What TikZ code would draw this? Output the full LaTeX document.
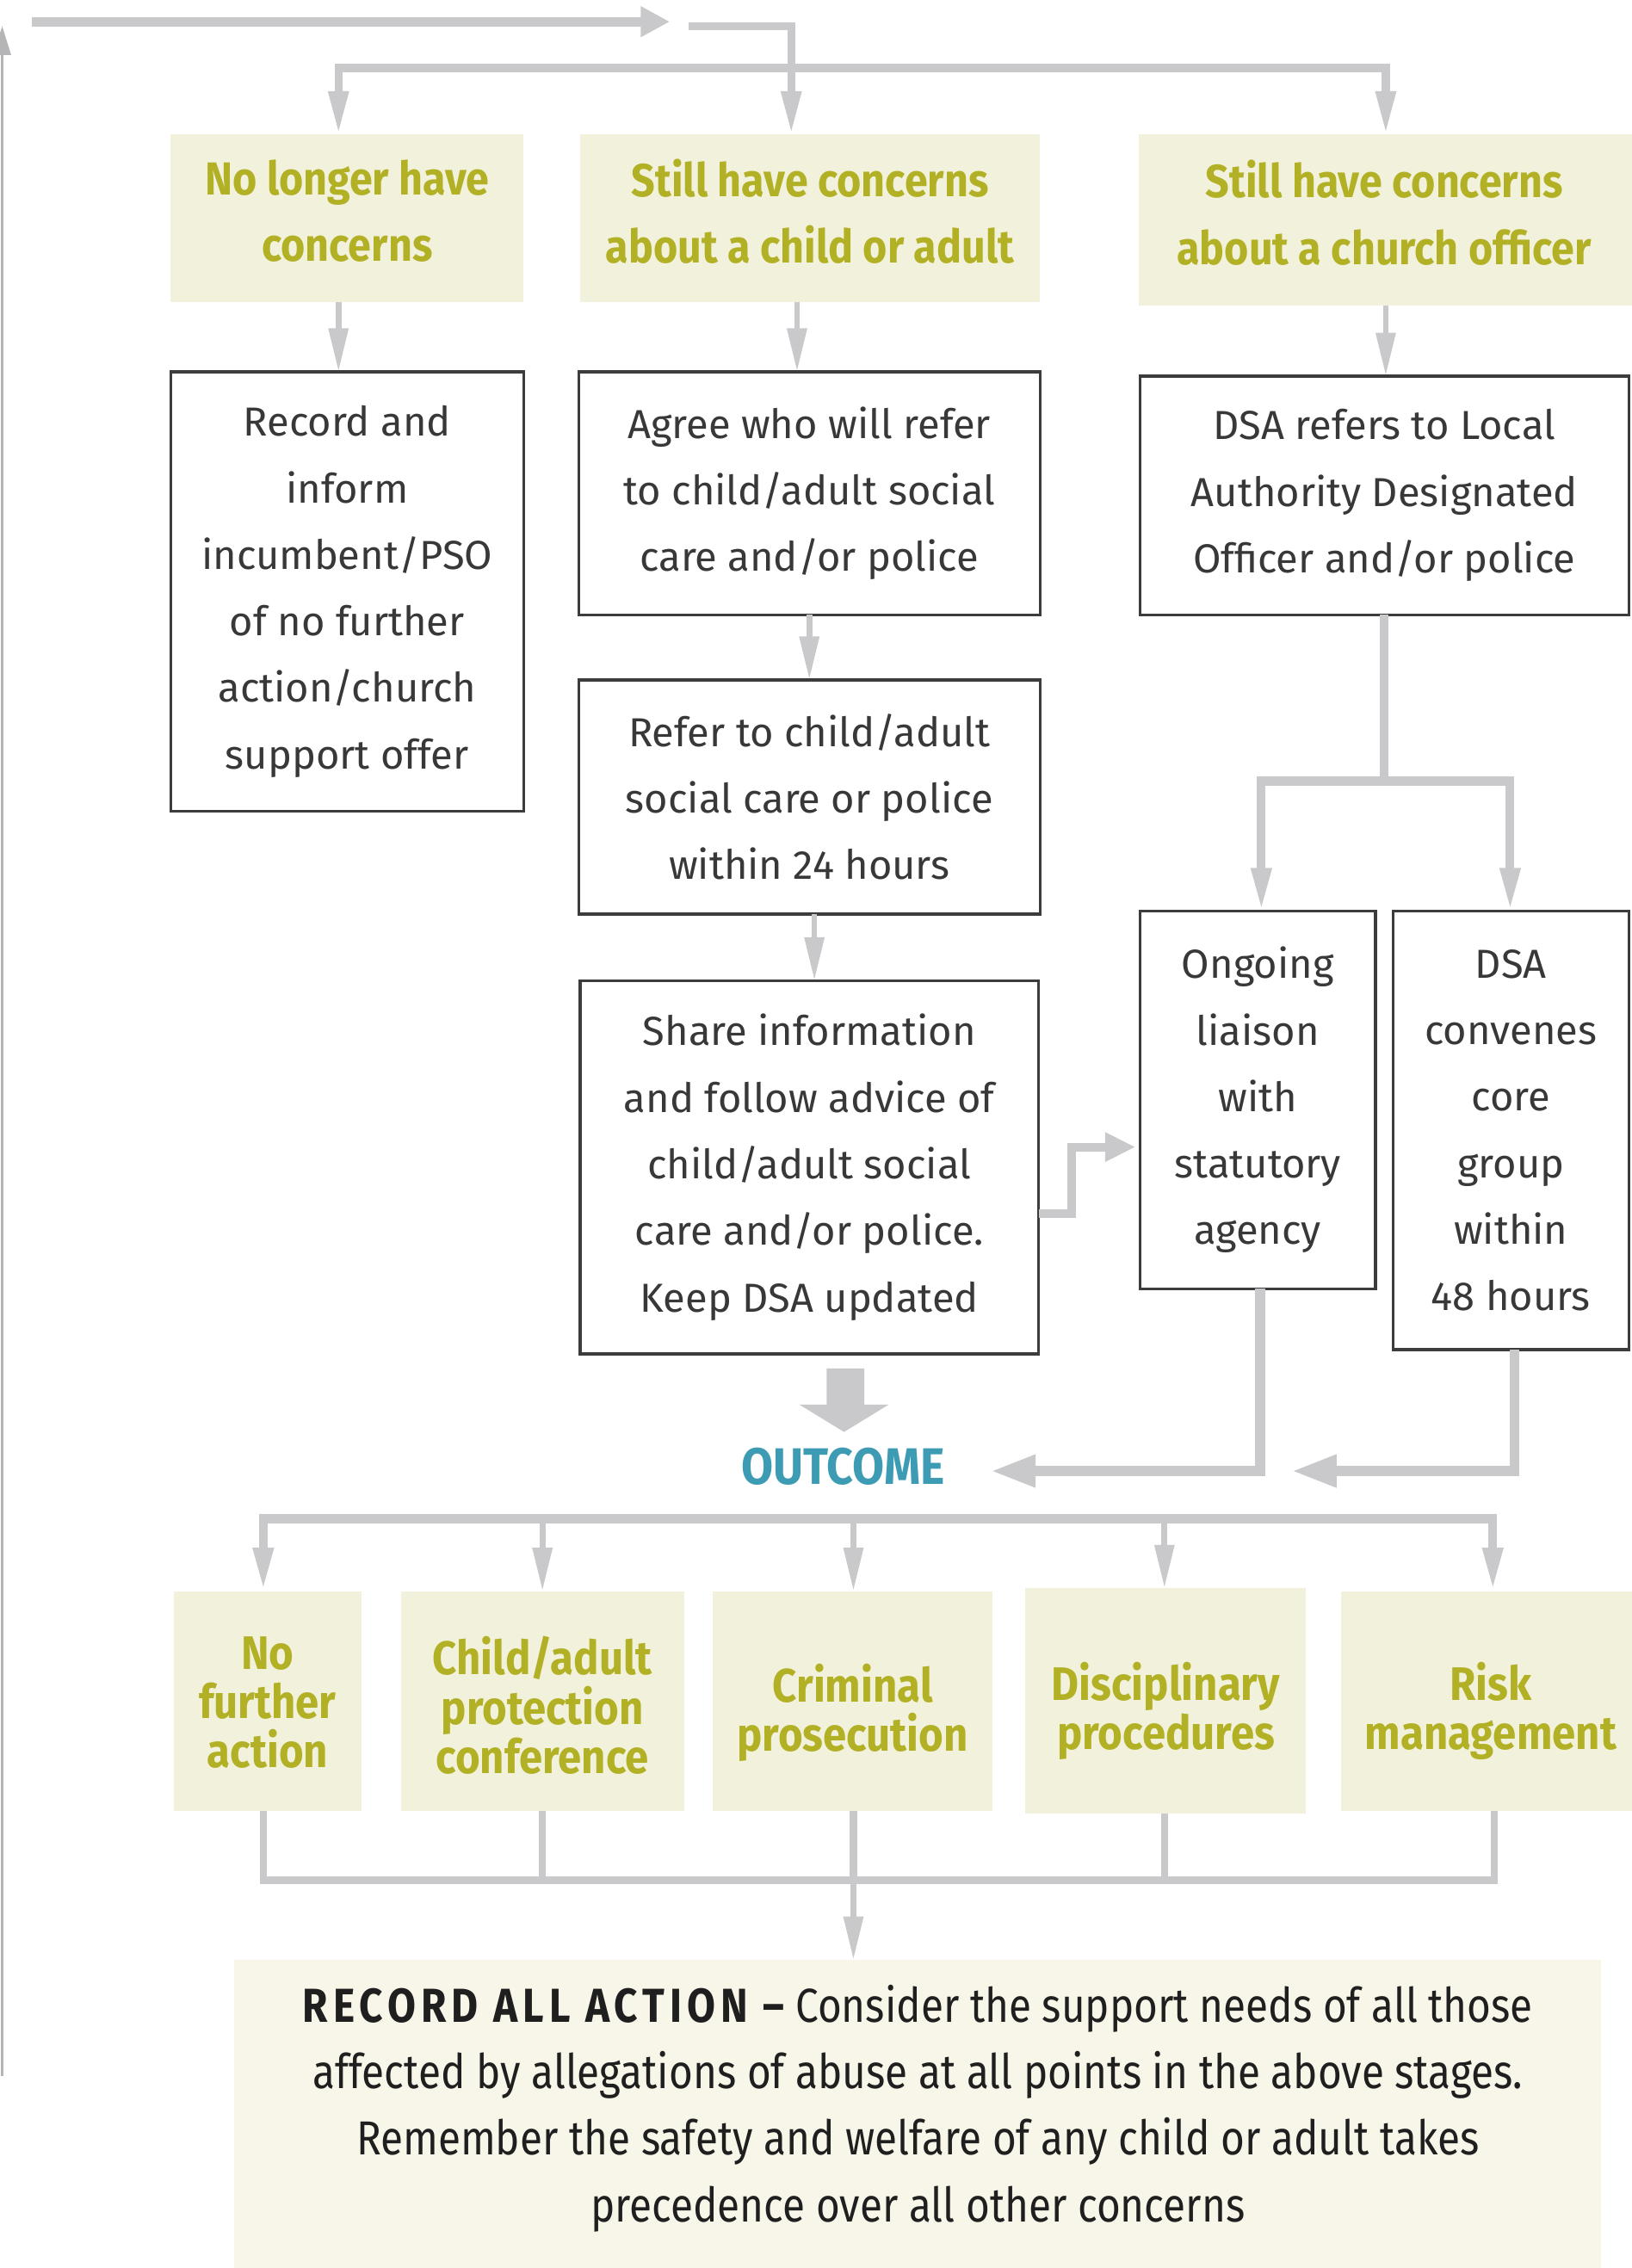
\documentclass[tikz,border=0pt]{standalone}
\usepackage{fontspec}
\setmainfont{Fira Sans}
\newfontfamily\bodyfam{Fira Sans}
\newfontfamily\condfam[FakeStretch=0.86]{Fira Sans}
\newfontfamily\headfam[FakeStretch=0.9]{Fira Sans}
\usetikzlibrary{arrows.meta,calc}
\definecolor{connc}{HTML}{C9C9CC}
\definecolor{beige}{HTML}{F1F1DC}
\definecolor{olive}{HTML}{B2B024}
\definecolor{bottombg}{HTML}{F8F6E8}
\definecolor{tealc}{HTML}{3D9BB4}
\definecolor{boxline}{HTML}{3C3C3C}
\definecolor{txtc}{HTML}{383838}
\begin{document}
\begin{tikzpicture}[x=1pt,y=-1pt,
  whitebox/.style={draw=boxline,line width=2pt,fill=white,inner sep=0pt,outer sep=0pt,align=center,
    text=txtc,font=\bodyfam\fontsize{28}{46}\selectfont},
  headbox/.style={fill=beige,inner sep=0pt,outer sep=0pt},
  headtext/.style={align=center,text=olive,inner sep=0pt,
    font=\headfam\bfseries\fontsize{32}{46}\selectfont},
  outbox/.style={fill=beige,inner sep=0pt,outer sep=0pt},
  outtext/.style={align=center,text=olive,inner sep=0pt,
    font=\headfam\bfseries\fontsize{32.5}{34}\selectfont},
  conn/.style={draw=connc,line width=#1},
  conn/.default=5pt,
  downarr/.style={draw=connc,line width=4pt,-{Triangle[length=30pt,width=13pt]}},
  twoarr/.style={draw=connc,line width=#1,{Triangle[length=30pt,width=13pt]}-{Triangle[length=30pt,width=13pt]}},
  sidearr/.style={draw=connc,line width=7pt,-{Triangle[length=31pt,width=21pt]}},
]
\useasboundingbox (0,0) rectangle (1128,1568);

% left thin line with arrow
\coordinate (lb) at (1.5,1435);
\coordinate (lt) at (1.5,18);
\draw[draw=connc!90!black,line width=1.5pt,-{Triangle[length=20pt,width=12pt]}] (lb) -- (lt);

% top arrow
\coordinate (ta) at (22,15);
\coordinate (tb) at (463,15);
\draw[draw=connc,line width=6.5pt,-{Triangle[length=20pt,width=20pt]}] (ta) -- (tb);

% header boxes
\node[headbox,minimum width=244pt,minimum height=116pt,
  label={[headtext,yshift=5pt]center:No longer have\\concerns}] (H1) at (240,151) {};
\node[headbox,minimum width=318pt,minimum height=116pt,
  label={[headtext,yshift=5pt]center:Still have concerns\\about a child or adult}] (H2) at (560,151) {};
\node[headbox,minimum width=342pt,minimum height=118pt,
  label={[headtext,yshift=5pt,xshift=-1pt]center:Still have concerns\\about a church officer}] (H3) at (958,152) {};

% stub and bar
\coordinate (s0) at (476,18);
\coordinate (s1) at (547,18);
\draw[conn=5.5pt,line join=miter,-{Triangle[length=30pt,width=13pt]}] (s0) -- (s1) -- (s1 |- H2.north);
\coordinate (barL) at (234,47);
\coordinate (barR) at (958,47);
\draw[twoarr=5.5pt,line join=miter] (barL |- H1.north) -- (barL) -- (barR) -- (barR |- H3.north);

% white boxes
\node[whitebox,minimum width=244pt,minimum height=304pt] (W1) at (240,409)
  {Record and\\inform\\incumbent/PSO\\of no further\\action/church\\support offer};
\node[whitebox,minimum width=319pt,minimum height=168pt] (W2) at (559.5,341)
  {Agree who will refer\\to child/adult social\\care and/or police};
\node[whitebox,minimum width=338pt,minimum height=165pt] (W3) at (957,342.5)
  {DSA refers to Local\\Authority Designated\\Officer and/or police};
\node[whitebox,minimum width=319pt,minimum height=162pt] (W4) at (559.5,551)
  {Refer to child/adult\\social care or police\\within 24 hours};
\node[whitebox,minimum width=317pt,minimum height=258pt] (W5) at (559.5,807)
  {Share information\\and follow advice of\\child/adult social\\care and/or police.\\Keep DSA updated};
\node[whitebox,minimum width=163pt,minimum height=261pt] (W6) at (869.5,760.5)
  {Ongoing\\liaison\\with\\statutory\\agency};
\node[whitebox,minimum width=163pt,minimum height=303pt] (W7) at (1044.5,781.5)
  {DSA\\convenes\\core\\group\\within\\48 hours};

% header to white arrows
\draw[downarr] ([xshift=-6pt]H1.south) -- ([xshift=-6pt]W1.north);
\draw[downarr] ([xshift=-9pt]H2.south) -- ([xshift=-8.5pt]W2.north);
\draw[downarr] (H3.south) -- ([xshift=1pt]W3.north);

% W2 -> W4 -> W5
\draw[downarr] (W2.south) -- (W4.north);
\draw[downarr] ([xshift=3.5pt]W4.south) -- ([xshift=3.5pt]W5.north);

% W3 split
\coordinate (jn) at (957,540);
\coordinate (jl) at (872,540);
\coordinate (jr) at (1044,540);
\draw[conn=6pt] (W3.south) -- (jn);
\draw[twoarr=6pt,line join=miter] (jl |- W6.north) -- (jl) -- (jr) -- (jr |- W7.north);

% W5 -> W6
\draw[draw=connc,line width=6pt,line join=miter,-{Triangle[length=21pt,width=19pt]}]
  ($(W5.east)+(0,32)$) -- ++(23,0) |- ($(W6.west)+(-3,32.5)$);

% big block arrow
\coordinate (ba) at ($(W5.south)+(25,0)$);
\fill[connc] ($(ba)+(-13,10)$) -- ($(ba)+(13,10)$) -- ($(ba)+(13,35)$) -- ($(ba)+(30,35)$)
  -- ($(ba)+(-1,54)$) -- ($(ba)+(-32,35)$) -- ($(ba)+(-13,35)$) -- cycle;

% OUTCOME
\node[text=tealc,font=\headfam\bfseries\fontsize{35.5}{38}\selectfont,inner sep=0pt] (OUT) at (583,1014) {OUTCOME};
\coordinate (o1) at (685,1017);
\coordinate (o2) at (893,1017);
\draw[sidearr,line join=miter] ([xshift=1.5pt]W6.south) |- (o1);
\draw[sidearr,line join=miter] ([xshift=2.5pt]W7.south) |- (o2);

% outcome boxes
\node[outbox,minimum width=130pt,minimum height=152pt,
  label={[outtext,yshift=-1pt]center:No\\further\\action}] (O1) at (185,1176) {};
\node[outbox,minimum width=196pt,minimum height=152pt,
  label={[outtext,yshift=-3pt]center:Child/adult\\protection\\conference}] (O2) at (375,1176) {};
\node[outbox,minimum width=193pt,minimum height=152pt,
  label={[outtext,yshift=-8pt]center:Criminal\\prosecution}] (O3) at (589.5,1176) {};
\node[outbox,minimum width=194pt,minimum height=156pt,
  label={[outtext,yshift=-7pt]center:Disciplinary\\procedures}] (O4) at (806,1176) {};
\node[outbox,minimum width=207pt,minimum height=152pt,
  label={[outtext,yshift=-7pt]center:Risk\\management}] (O5) at (1030.5,1176) {};

% distribution bar above outcome boxes
\coordinate (b1) at (182,1050);
\coordinate (b2) at (375,1050);
\coordinate (b3) at (590,1050);
\coordinate (b4) at (805,1050);
\coordinate (b5) at (1032,1050);
\draw[twoarr=6pt,line join=miter] (b1 |- O1.north) -- (b1) -- (b5) -- (b5 |- O5.north);
\draw[downarr] (b2) -- (b2 |- O2.north);
\draw[downarr] (b3) -- (b3 |- O3.north);
\draw[downarr] (b4) -- (b4 |- O4.north);

% collecting bar below
\coordinate (c1) at (182,1300);
\coordinate (c2) at (375,1300);
\coordinate (c3) at (590,1300);
\coordinate (c4) at (805,1300);
\coordinate (c5) at (1033,1300);
\draw[conn=5pt,line join=miter] (c1 |- O1.south) -- (c1) -- (c5) -- (c5 |- O5.south);
\draw[conn=5pt] (c2 |- O2.south) -- (c2);
\draw[conn=5pt] (c3 |- O3.south) -- (c3);
\draw[conn=5pt] (c4 |- O4.south) -- (c4);

% bottom box
\node[fill=bottombg,inner sep=0pt,outer sep=0pt,minimum width=945pt,minimum height=215pt,
  label={[align=center,inner sep=0pt,text=black!88,font=\condfam\fontsize{33}{46}\selectfont,yshift=5pt]center:%
   {\bfseries\addfontfeature{LetterSpace=11}RECORD ALL ACTION \textendash}\ Consider the support needs of all those\\
   affected by allegations of abuse at all points in the above stages.\\
   Remember the safety and welfare of any child or adult takes\\
   precedence over all other concerns}] (R) at (634.5,1462.5) {};
\draw[downarr] (c3) -- (c3 |- R.north);
\end{tikzpicture}
\end{document}
